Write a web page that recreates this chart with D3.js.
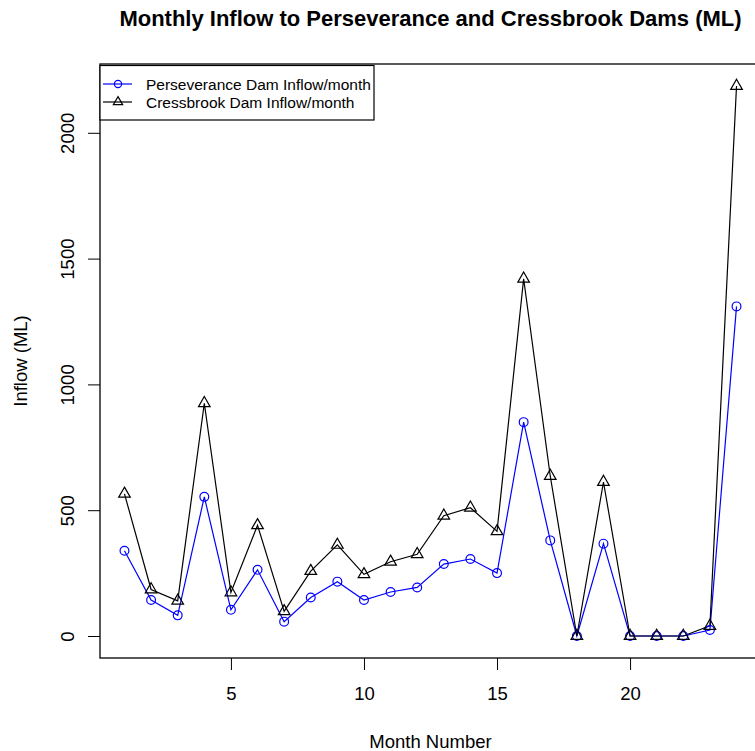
<!DOCTYPE html>
<html>
<head>
<meta charset="utf-8">
<script src="https://cdn.jsdelivr.net/npm/d3@7"></script>
<style>
  body { margin: 0; background: #fff; }
  svg { font-family: "Liberation Sans", Arial, sans-serif; display: block; }
</style>
</head>
<body>
<svg id="chart"></svg>
<script>
// month numbers and inflows (ML)
const months = d3.range(1, 25);
const perseverance = [339, 143, 82, 553, 104, 263, 57, 153, 216, 143, 175, 193, 286, 306, 250, 850, 380, 0, 367, 0, 0, 0, 24, 1310];
const cressbrook = [565, 185, 140, 925, 173, 440, 98, 258, 362, 245, 295, 325, 478, 510, 416, 1420, 636, 0, 612, 0, 0, 0, 40, 2186];
const yTicks = [0, 500, 1000, 1500, 2000];
const xTicks = [5, 10, 15, 20];
const seriesNames = ["Perseverance Dam Inflow/month", "Cressbrook Dam Inflow/month"];

const width = 755, height = 751;
const plot = {left: 100, right: 761, top: 64, bottom: 658};

const svg = d3.select("#chart")
    .attr("width", width)
    .attr("height", height);

// R style 4% padding on both axes
const xExt = d3.extent(months), xPad = (xExt[1] - xExt[0]) * 0.04;
const yMax = d3.max(perseverance.concat(cressbrook)), yPad = yMax * 0.04;

const x = d3.scaleLinear()
    .domain([xExt[0] - xPad, xExt[1] + xPad])
    .range([plot.left, plot.right]);

const y = d3.scaleLinear()
    .domain([0 - yPad, yMax + yPad])
    .range([plot.bottom, plot.top]);

// axes
const xAxis = svg.append("g")
    .attr("transform", `translate(0,${plot.bottom})`)
    .call(d3.axisBottom(x).tickValues(xTicks).tickSize(12).tickSizeOuter(0));
xAxis.select(".domain").remove();
xAxis.selectAll("text")
    .attr("font-size", 18.5).attr("fill", "#000")
    .attr("y", 42).attr("dy", 0);

const yAxis = svg.append("g")
    .attr("transform", `translate(${plot.left},0)`)
    .call(d3.axisLeft(y).tickValues(yTicks).tickFormat(d3.format("d")).tickSize(12).tickSizeOuter(0));
yAxis.select(".domain").remove();
yAxis.selectAll("text")
    .attr("font-size", 18.5)
    .attr("fill", "#000")
    .attr("x", 0).attr("dy", 0)
    .attr("text-anchor", "middle")
    .attr("transform", "translate(-26.5,0) rotate(-90)");

// plot box
svg.append("rect")
    .attr("x", plot.left).attr("y", plot.top)
    .attr("width", plot.right - plot.left).attr("height", plot.bottom - plot.top)
    .attr("fill", "none").attr("stroke", "#000").attr("stroke-width", 1.3);

// lines
const line = d3.line().x((d, i) => x(months[i])).y(d => y(d));

svg.append("path").datum(perseverance)
    .attr("d", line).attr("fill", "none").attr("stroke", "#0000ff").attr("stroke-width", 1.2);
svg.append("path").datum(cressbrook)
    .attr("d", line).attr("fill", "none").attr("stroke", "#000").attr("stroke-width", 1.2);

// markers
const triR = 6.7;
const triPath = `M0,${-triR}L${triR * 0.866},${triR / 2}L${-triR * 0.866},${triR / 2}Z`;

svg.append("g").selectAll("circle").data(perseverance).enter().append("circle")
    .attr("cx", (d, i) => x(months[i]))
    .attr("cy", d => y(d))
    .attr("r", 4.4)
    .attr("fill", "none").attr("stroke", "#0000ff").attr("stroke-width", 1.2);

svg.append("g").selectAll("path").data(cressbrook).enter().append("path")
    .attr("transform", (d, i) => `translate(${x(months[i])},${y(d)})`)
    .attr("d", triPath)
    .attr("fill", "none").attr("stroke", "#000").attr("stroke-width", 1.2);

// titles
svg.append("text")
    .attr("x", (plot.left + plot.right) / 2).attr("y", 26)
    .attr("text-anchor", "middle")
    .attr("font-size", 22).attr("font-weight", "bold")
    .text("Monthly Inflow to Perseverance and Cressbrook Dams (ML)");

svg.append("text")
    .attr("x", (plot.left + plot.right) / 2).attr("y", 748)
    .attr("text-anchor", "middle")
    .attr("font-size", 18.5)
    .text("Month Number");

svg.append("text")
    .attr("transform", `translate(27,${(plot.top + plot.bottom) / 2}) rotate(-90)`)
    .attr("text-anchor", "middle")
    .attr("font-size", 18.5)
    .text("Inflow (ML)");

// legend
const legend = svg.append("g");
legend.append("rect")
    .attr("x", plot.left).attr("y", 65.5)
    .attr("width", 274).attr("height", 54.5)
    .attr("fill", "#fff").attr("stroke", "#000").attr("stroke-width", 1.2);

const legRows = [
  {name: seriesNames[0], color: "#0000ff", shape: "circle"},
  {name: seriesNames[1], color: "#000", shape: "tri"}
];
legRows.forEach((r, i) => {
  const ly = 84 + i * 18;
  legend.append("line")
      .attr("x1", 103).attr("x2", 132).attr("y1", ly).attr("y2", ly)
      .attr("stroke", r.color).attr("stroke-width", 1.2);
  if (r.shape === "circle") {
    legend.append("circle").attr("cx", 118).attr("cy", ly).attr("r", 3.6)
        .attr("fill", "none").attr("stroke", r.color).attr("stroke-width", 1.2);
  } else {
    legend.append("path").attr("transform", `translate(118,${ly}) scale(0.8)`).attr("d", triPath)
        .attr("fill", "none").attr("stroke", r.color).attr("stroke-width", 1.5);
  }
  legend.append("text")
      .attr("x", 146).attr("y", ly + 6)
      .attr("font-size", 15.5)
      .text(r.name);
});
</script>
</body>
</html>
